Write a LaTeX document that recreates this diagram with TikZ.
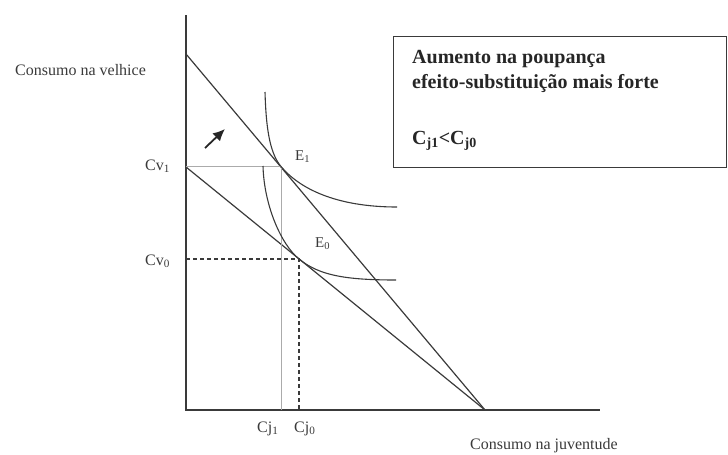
\documentclass[tikz,border=0pt]{standalone}
\usepackage{fontspec}
\setmainfont{Liberation Serif}
\usetikzlibrary{arrows.meta}
\definecolor{ink}{HTML}{3A3A3A}
\definecolor{lightink}{HTML}{ABABAB}
\begin{document}
\begin{tikzpicture}[x=1pt,y=-1pt,
  axis/.style={draw=ink,line width=1.3pt},
  budget/.style={draw=ink,line width=1.2pt},
  indiff/.style={draw=ink,line width=1.1pt},
  guide/.style={draw=lightink,line width=0.9pt},
  guidedash/.style={draw=ink,line width=1.1pt,dash pattern=on 4pt off 3pt},
  lab/.style={font=\fontsize{16}{18}\selectfont,text=ink,inner sep=0pt,anchor=base west},
  tick/.style={font=\fontsize{16}{18}\selectfont,text=ink,inner sep=0pt,anchor=base west},
  eqlab/.style={font=\fontsize{15}{17}\selectfont,text=ink,inner sep=0pt,anchor=base west},
  boxtext/.style={font=\fontsize{20}{23}\bfseries\selectfont,text=black!85,inner sep=0pt,anchor=base west},
  frame/.style={draw=ink,line width=1.3pt,minimum width=333pt,minimum height=131pt,anchor=north west,inner sep=0pt}]
\useasboundingbox (0,0) rectangle (728,455);
% axes
\coordinate (O) at (186,410);
\coordinate (Ytop) at (186,15);
\coordinate (Xend) at (600,410);
\draw[axis] (Ytop) -- (O) -- (Xend);
% budget lines
\coordinate (B1) at (186,54);
\coordinate (B0) at (186,167);
\coordinate (X) at (485,410);
\draw[budget] (B1) -- (X);
\draw[budget] (B0) -- (X);
% equilibria
\coordinate (E1) at (281,166.5);
\coordinate (E0) at (299,259);
\coordinate (Cv1) at (186,166.5);
\coordinate (Cj1) at (281,410);
\coordinate (Cv0) at (186,259);
\coordinate (Cj0) at (299,410);
\draw[guide] (Cv1) -- (E1) -- (Cj1);
\draw[guidedash] (Cv0) -- (E0) -- (Cj0);
% indifference curves
\coordinate (I1s) at (265,92);
\coordinate (I1e) at (397,207);
\coordinate (I0s) at (263,166);
\coordinate (I0e) at (396,280);
\draw[indiff] (I1s) .. controls (266,125) and (269,152.2) .. (E1)
  .. controls (299,188) and (335,207) .. (I1e);
\draw[indiff] (I0s) .. controls (264,205) and (281,244.4) .. (E0)
  .. controls (319,275.3) and (345,280) .. (I0e);
% arrow
\coordinate (At) at (205,148);
\coordinate (Ah) at (225,129);
\draw[draw=black!85,line width=1.8pt,-{Latex[length=12pt,width=11pt]}] (At) -- (Ah);
% labels
\node[lab] (ly) at (15,75) {Consumo na velhice};
\node[lab] (lx) at (470,449) {Consumo na juventude};
\node[tick] (lcv1) at (145,170) {Cv\textsubscript{1}};
\node[tick] (lcv0) at (145,265) {Cv\textsubscript{0}};
\node[tick] (lcj1) at (257,432) {Cj\textsubscript{1}};
\node[tick] (lcj0) at (294,432) {Cj\textsubscript{0}};
\node[eqlab] (le1) at (295,160) {E\textsubscript{1}};
\node[eqlab] (le0) at (315,247) {E\textsubscript{0}};
% box
\node[frame] (box) at (393,36) {};
\node[boxtext] (t1) at (412,63) {Aumento na poupança};
\node[boxtext] (t2) at (412,88) {efeito-substituição mais forte};
\node[boxtext] (t3) at (412,144) {C\textsubscript{j1}<C\textsubscript{j0}};
\end{tikzpicture}
\end{document}
